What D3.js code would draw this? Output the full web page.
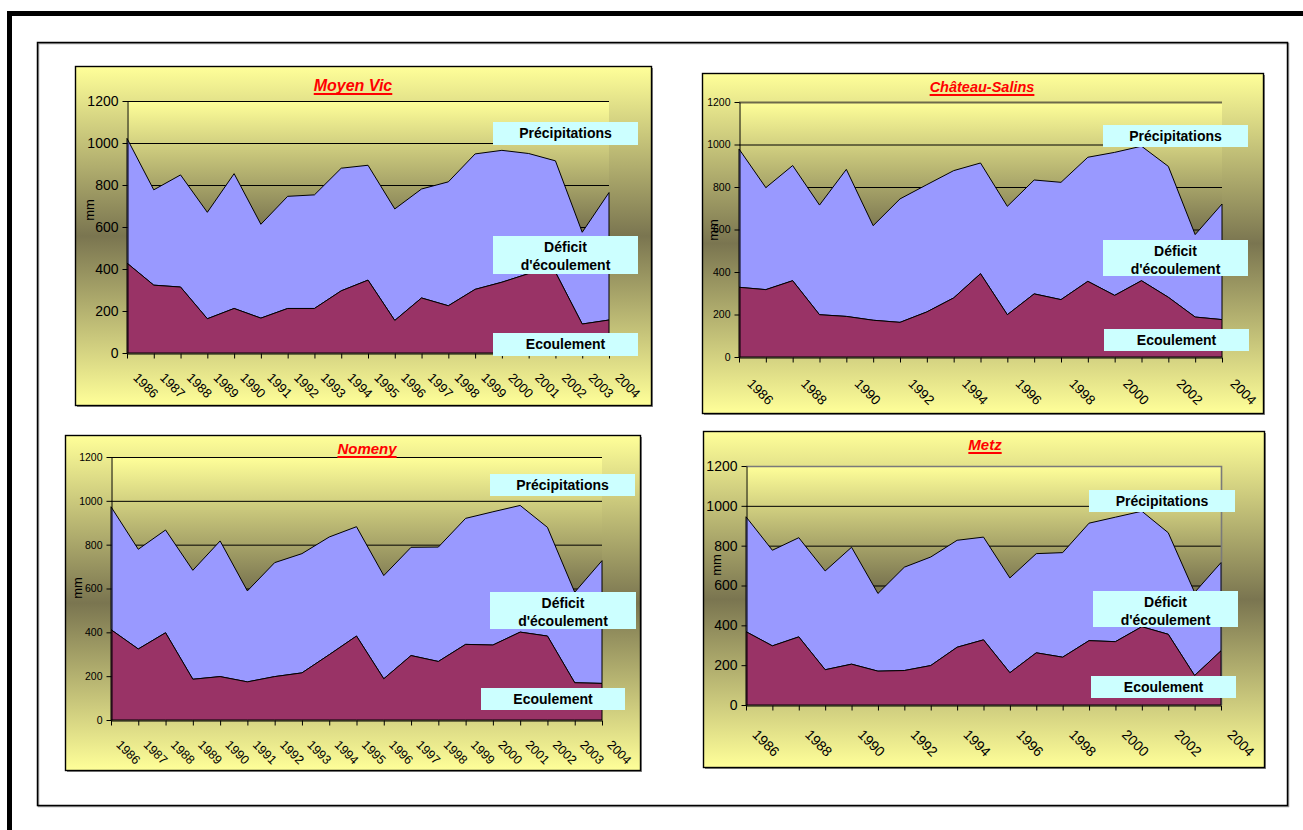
<!DOCTYPE html>
<html><head><meta charset="utf-8">
<script src="https://cdn.jsdelivr.net/npm/d3@7"></script>
<style>
body{margin:0;background:#fff;}
svg{display:block;font-family:Arial,"Liberation Sans",sans-serif;}
</style>
</head><body>
<svg id="c" width="1303" height="830"></svg>
<script>
// ---------- DATA ----------
const years = [1986,1987,1988,1989,1990,1991,1992,1993,1994,1995,1996,1997,1998,1999,2000,2001,2002,2003,2004];
const yTicks = [0,200,400,600,800,1000,1200];
const stationNames = ["Moyen Vic","Château-Salins","Nomeny","Metz"];
const labelPrecip = "Précipitations";
const labelDeficit = ["Déficit","d'écoulement"];
const labelEcoul = "Ecoulement";
const axisTitle = "mm";

const precipMoyenVic = [1022,777,848,670,854,613,746,753,880,894,686,781,815,948,965,950,915,575,764];
const ecoulMoyenVic  = [428,323,314,163,212,166,212,212,296,347,155,262,225,303,337,378,385,138,157];

const precipChateauSalins = [979,797,901,715,883,618,744,811,877,913,709,833,822,940,963,992,897,576,720];
const ecoulChateauSalins  = [328,317,359,199,191,173,163,212,278,392,199,297,270,356,290,359,281,188,176];

const precipNomeny = [973,779,867,683,817,589,718,759,835,882,659,788,789,920,950,979,879,583,727];
const ecoulNomeny  = [412,324,398,186,198,174,198,215,298,383,188,294,267,345,342,401,383,170,167];

const precipMetz = [945,777,840,673,792,560,692,743,827,843,638,760,765,913,943,973,865,565,715];
const ecoulMetz  = [368,297,342,177,205,170,173,198,290,327,162,262,240,323,318,393,355,148,272];

// ---------- LAYOUT ----------
const layout = [
  {box:{x:75.5,y:66.5,w:576,h:339}, plot:{l:127,r:609,t:101,b:353}, yFont:14, xFont:13, every:1, xOff:[5,25],
   title:{x:353,y:91,fs:16}, mm:{x:90,y:210},
   lp:{x:493,y:122,w:145,h:23}, ld:{x:493,y:236,w:145,h:38}, le:{x:493,y:333,w:145,h:23}, border:"none"},
  {box:{x:702.5,y:73.5,w:561,h:340}, plot:{l:739,r:1222,t:102,b:357}, yFont:10.5, xFont:13.5, every:2, xOff:[7,27],
   title:{x:982,y:92,fs:14.5}, mm:{x:714,y:230},
   lp:{x:1103,y:125,w:145,h:22}, ld:{x:1103,y:240,w:145,h:36}, le:{x:1104,y:329,w:145,h:22}, border:"top"},
  {box:{x:65.5,y:435.5,w:575,h:335}, plot:{l:111,r:602,t:457,b:720}, yFont:10.5, xFont:12.5, every:1, xOff:[4,25],
   title:{x:367,y:454,fs:15}, mm:{x:78,y:588},
   lp:{x:490,y:474,w:145,h:22}, ld:{x:490,y:592,w:146,h:37}, le:{x:481,y:688,w:144,h:22}, border:"none"},
  {box:{x:703.5,y:431.5,w:561,h:336}, plot:{l:746,r:1221,t:466,b:705}, yFont:14, xFont:14, every:2, xOff:[5,30],
   title:{x:985,y:450,fs:15}, mm:{x:717,y:565},
   lp:{x:1089,y:490,w:146,h:22}, ld:{x:1093,y:591,w:145,h:36}, le:{x:1091,y:676,w:145,h:22}, border:"full"}
];
const series = [
  [precipMoyenVic, ecoulMoyenVic],
  [precipChateauSalins, ecoulChateauSalins],
  [precipNomeny, ecoulNomeny],
  [precipMetz, ecoulMetz]
];

const svg = d3.select("#c");
const defs = svg.append("defs");
const grad = defs.append("linearGradient").attr("id","g1").attr("x1",0).attr("y1",0).attr("x2",0).attr("y2",1);
grad.append("stop").attr("offset",0).attr("stop-color","#FFFF99");
grad.append("stop").attr("offset",0.5).attr("stop-color","#7A7550");
grad.append("stop").attr("offset",1).attr("stop-color","#FFFF99");

// outer frame
svg.append("rect").attr("x",7).attr("y",11).attr("width",1300).attr("height",5).attr("fill","#000");
svg.append("rect").attr("x",7).attr("y",11).attr("width",5).attr("height",825).attr("fill","#000");
svg.append("rect").attr("x",38.5).attr("y",43.5).attr("width",1250).attr("height",763).attr("fill","none").attr("stroke","#999").attr("stroke-width",1.5);
svg.append("rect").attr("x",37.5).attr("y",42.5).attr("width",1250).attr("height",763).attr("fill","none").attr("stroke","#000").attr("stroke-width",1.5);

function drawPanel(cfg, precip, ecoul, name) {
  const g = svg.append("g");
  const data = years.map((yr,i)=>({yr, p:precip[i], e:ecoul[i]}));
  const x = d3.scalePoint().domain(years).range([cfg.plot.l, cfg.plot.r]);
  const y = d3.scaleLinear().domain([0,1200]).range([cfg.plot.b, cfg.plot.t]);
  const b = cfg.box;
  g.append("rect").attr("x",b.x+1.5).attr("y",b.y+1.5).attr("width",b.w).attr("height",b.h).attr("fill","#888");
  g.append("rect").attr("x",b.x).attr("y",b.y).attr("width",b.w).attr("height",b.h)
    .attr("fill","url(#g1)").attr("stroke","#000").attr("stroke-width",1.4);
  const p = cfg.plot;
  g.append("rect").attr("x",p.l).attr("y",p.t).attr("width",p.r-p.l).attr("height",p.b-p.t).attr("fill","url(#g1)");
  // gridlines
  g.selectAll("line.grid").data(yTicks.slice(1)).join("line")
    .attr("x1",p.l).attr("x2",p.r).attr("y1",d=>y(d)+0.5).attr("y2",d=>y(d)+0.5)
    .attr("stroke","#000").attr("stroke-width",1);
  if (cfg.border === "full") {
    g.append("path").attr("d",`M${p.l},${p.t+0.5}H${p.r+0.5}V${p.b}`).attr("fill","none").attr("stroke","#7a7a7a").attr("stroke-width",1.6);
  } else if (cfg.border === "top") {
    g.append("path").attr("d",`M${p.l},${p.t+0.5}H${p.r}`).attr("fill","none").attr("stroke","#6e6a4a").attr("stroke-width",1.8);
  }
  const areaDef = d3.area().x(d=>x(d.yr)).y0(d=>y(d.e)).y1(d=>y(d.p));
  const areaEc = d3.area().x(d=>x(d.yr)).y0(y(0)).y1(d=>y(d.e));
  g.append("path").datum(data).attr("d",areaDef).attr("fill","#9999FF").attr("stroke","#000").attr("stroke-width",1).attr("stroke-linejoin","round");
  g.append("path").datum(data).attr("d",areaEc).attr("fill","#993366").attr("stroke","#000").attr("stroke-width",1).attr("stroke-linejoin","round");

  // y axis
  const ya = g.append("g").attr("transform",`translate(${p.l+0.5},0)`)
    .call(d3.axisLeft(y).tickValues(yTicks).tickSize(5).tickSizeOuter(0).tickPadding(4).tickFormat(d3.format("d")));
  ya.selectAll("path,line").attr("stroke","#000");
  ya.selectAll("text").attr("font-size",cfg.yFont).attr("fill","#000").attr("font-family","Arial, 'Liberation Sans', sans-serif");
  // x axis
  const xa = g.append("g").attr("transform",`translate(0,${p.b+0.5})`)
    .call(d3.axisBottom(x).tickSize(5).tickSizeOuter(0).tickFormat((d,i)=> i%cfg.every===0 ? String(d) : ""));
  xa.selectAll("path,line").attr("stroke","#000");
  xa.selectAll("text").attr("font-size",cfg.xFont).attr("fill","#000").attr("font-family","Arial, 'Liberation Sans', sans-serif")
    .attr("x",0).attr("y",0).attr("dy",null).attr("text-anchor","start")
    .attr("transform",`translate(${cfg.xOff[0]},${cfg.xOff[1]}) rotate(45)`);

  // axis title
  g.append("text").attr("transform",`translate(${cfg.mm.x+4},${cfg.mm.y}) rotate(-90)`)
    .attr("text-anchor","middle").attr("font-size",13).attr("fill","#000").text(axisTitle);

  // label boxes
  function box(r, lines) {
    g.append("rect").attr("x",r.x).attr("y",r.y).attr("width",r.w).attr("height",r.h).attr("fill","#CCFFFF");
    lines.forEach((t,i)=>{
      g.append("text").attr("x",r.x+r.w/2).attr("y",r.y+16+i*17.5).attr("text-anchor","middle")
        .attr("font-size",14).attr("font-weight","bold").attr("fill","#000").text(t);
    });
  }
  box(cfg.lp,[labelPrecip]);
  box(cfg.ld,labelDeficit);
  box(cfg.le,[labelEcoul]);

  // title
  const tt = g.append("text").attr("x",cfg.title.x).attr("y",cfg.title.y).attr("text-anchor","middle")
    .attr("font-size",cfg.title.fs).attr("font-weight","bold").attr("font-style","italic").attr("fill","#FF0000").text(name);
  const w = tt.node().getComputedTextLength();
  g.append("rect").attr("x",cfg.title.x-w/2).attr("y",cfg.title.y+2).attr("width",w).attr("height",2).attr("fill","#FF0000");
}

layout.forEach((cfg,i)=>drawPanel(cfg, series[i][0], series[i][1], stationNames[i]));
</script>
</body></html>
